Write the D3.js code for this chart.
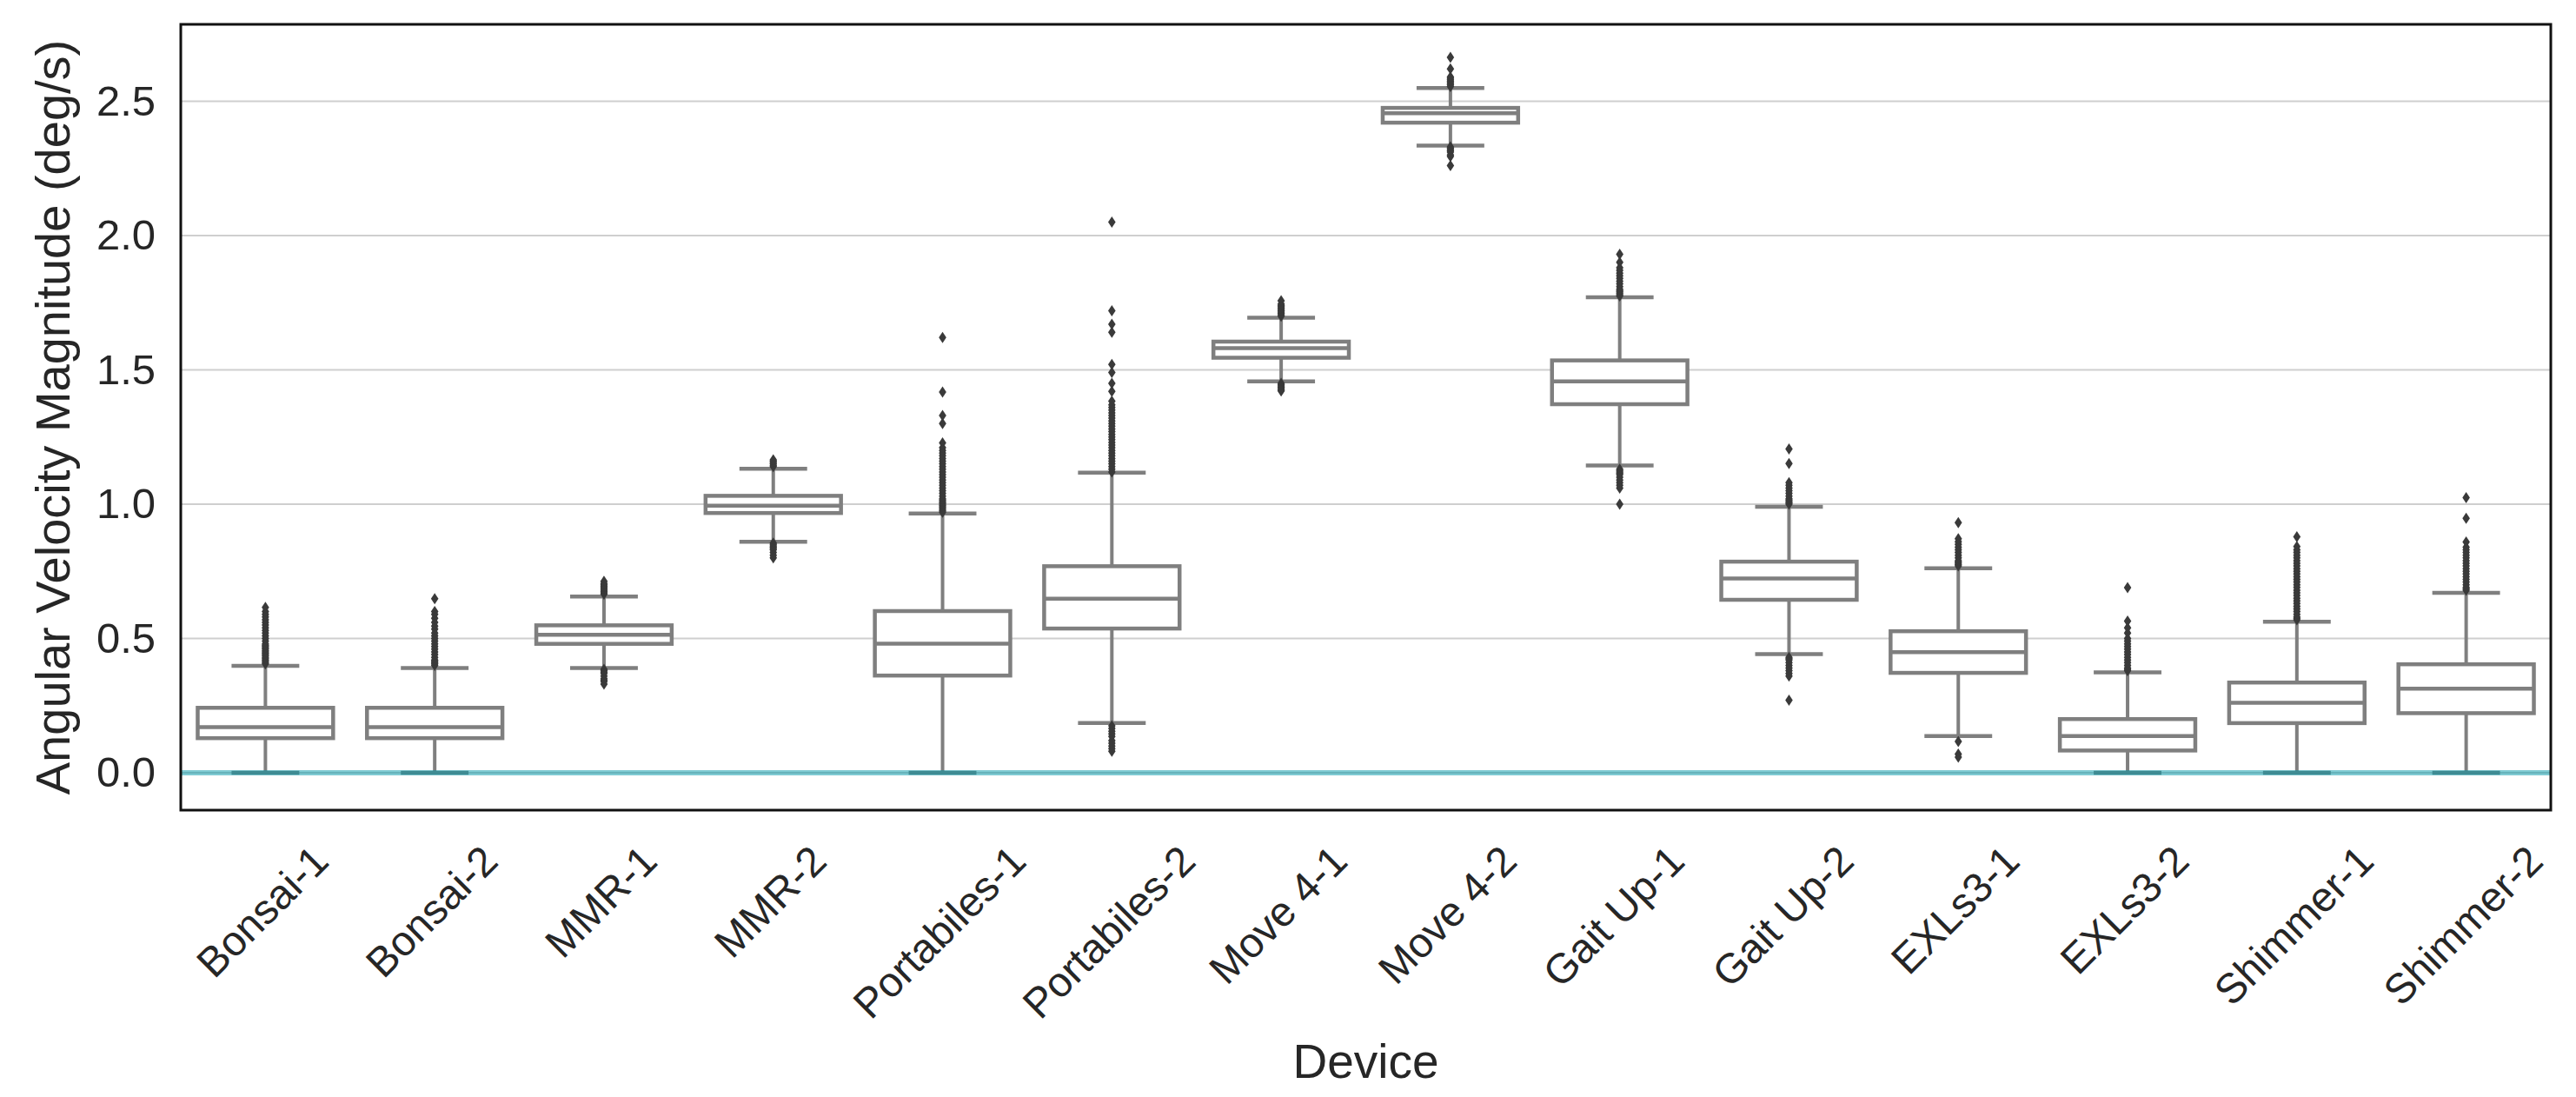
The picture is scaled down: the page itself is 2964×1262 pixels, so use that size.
<!DOCTYPE html>
<html>
<head>
<meta charset="utf-8">
<script src="https://cdn.jsdelivr.net/npm/d3@7"></script>
<style>
  body { margin: 0; background: #fff; }
  text { font-family: "Liberation Sans", Arial, sans-serif; fill: #262626; }
</style>
</head>
<body>
<svg id="chart" width="2964" height="1262"></svg>
<script>
// box statistics (deg/s)
var devices = ["Bonsai-1", "Bonsai-2", "MMR-1", "MMR-2", "Portabiles-1", "Portabiles-2",
  "Move 4-1", "Move 4-2", "Gait Up-1", "Gait Up-2", "EXLs3-1", "EXLs3-2", "Shimmer-1", "Shimmer-2"];
var whiskLo = [0.0, 0.0, 0.39, 0.86, 0.0, 0.185, 1.457, 2.335, 1.144, 0.442, 0.137, 0.0, 0.0, 0.0];
var q1      = [0.129, 0.129, 0.48, 0.967, 0.362, 0.537, 1.545, 2.42, 1.372, 0.644, 0.372, 0.083, 0.185, 0.222];
var med     = [0.17, 0.17, 0.514, 0.994, 0.481, 0.648, 1.581, 2.455, 1.457, 0.723, 0.449, 0.137, 0.261, 0.313];
var q3      = [0.242, 0.242, 0.549, 1.031, 0.602, 0.769, 1.605, 2.475, 1.535, 0.786, 0.527, 0.2, 0.336, 0.404];
var whiskHi = [0.398, 0.39, 0.656, 1.132, 0.965, 1.117, 1.694, 2.549, 1.77, 0.99, 0.761, 0.374, 0.562, 0.67];

// outlier points per device
var fliers = [
  [0.405, 0.41, 0.415, 0.42, 0.425, 0.43, 0.435, 0.44, 0.445, 0.45, 0.455, 0.46, 0.465, 0.47, 0.475,
   0.48, 0.49, 0.50, 0.51, 0.52, 0.53, 0.54, 0.55, 0.56, 0.57, 0.58, 0.59, 0.60, 0.616],
  [0.40, 0.405, 0.41, 0.415, 0.42, 0.43, 0.44, 0.45, 0.46, 0.47, 0.48, 0.49, 0.50, 0.51, 0.52,
   0.535, 0.546, 0.56, 0.575, 0.59, 0.60, 0.648],
  [0.665, 0.67, 0.675, 0.68, 0.685, 0.69, 0.695, 0.70, 0.705, 0.713,
   0.385, 0.38, 0.375, 0.37, 0.36, 0.35, 0.345, 0.34, 0.33],
  [1.14, 1.145, 1.15, 1.155, 1.16, 1.165,
   0.855, 0.85, 0.845, 0.84, 0.835, 0.83, 0.82, 0.81, 0.80],
  [0.97, 0.975, 0.98, 0.985, 0.99, 0.995, 1.0, 1.005, 1.01, 1.015, 1.02, 1.03, 1.04, 1.05, 1.06,
   1.07, 1.08, 1.09, 1.10, 1.11, 1.12, 1.13, 1.14, 1.15, 1.16, 1.17, 1.18, 1.19, 1.20, 1.21, 1.228,
   1.30, 1.33, 1.417, 1.62],
  [1.12, 1.13, 1.14, 1.15, 1.16, 1.17, 1.18, 1.19, 1.20, 1.21, 1.22, 1.23, 1.24, 1.25, 1.26, 1.27,
   1.28, 1.29, 1.30, 1.31, 1.32, 1.33, 1.34, 1.35, 1.36, 1.37, 1.383, 1.42, 1.45, 1.49, 1.52,
   1.64, 1.67, 1.72, 2.05,
   0.175, 0.165, 0.155, 0.145, 0.135, 0.12, 0.11, 0.10, 0.09, 0.08],
  [1.70, 1.705, 1.71, 1.715, 1.72, 1.725, 1.73, 1.735, 1.74, 1.745, 1.757,
   1.45, 1.445, 1.44, 1.435, 1.43, 1.425, 1.421],
  [2.555, 2.56, 2.565, 2.57, 2.575, 2.58, 2.585, 2.59, 2.62, 2.663,
   2.33, 2.325, 2.32, 2.315, 2.31, 2.30, 2.294, 2.26],
  [1.775, 1.78, 1.785, 1.79, 1.795, 1.80, 1.81, 1.82, 1.83, 1.84, 1.85, 1.86, 1.87, 1.88, 1.90, 1.93,
   1.13, 1.125, 1.12, 1.115, 1.11, 1.10, 1.09, 1.08, 1.07, 1.06, 1.0],
  [1.0, 1.005, 1.01, 1.015, 1.02, 1.03, 1.04, 1.05, 1.06, 1.07, 1.08, 1.151, 1.205,
   0.43, 0.425, 0.42, 0.41, 0.40, 0.39, 0.38, 0.37, 0.36, 0.27],
  [0.77, 0.775, 0.78, 0.785, 0.79, 0.80, 0.81, 0.82, 0.83, 0.84, 0.85, 0.86, 0.871, 0.931,
   0.117, 0.07, 0.058],
  [0.38, 0.385, 0.39, 0.40, 0.41, 0.42, 0.43, 0.44, 0.45, 0.46, 0.47, 0.48, 0.49, 0.50, 0.52, 0.54,
   0.565, 0.689],
  [0.57, 0.575, 0.58, 0.59, 0.60, 0.61, 0.62, 0.63, 0.64, 0.65, 0.66, 0.67, 0.68, 0.69, 0.70, 0.71,
   0.72, 0.73, 0.74, 0.75, 0.76, 0.77, 0.78, 0.79, 0.80, 0.81, 0.82, 0.83, 0.842, 0.879],
  [0.68, 0.685, 0.69, 0.70, 0.71, 0.72, 0.73, 0.74, 0.75, 0.76, 0.77, 0.78, 0.79, 0.80, 0.81, 0.82,
   0.83, 0.84, 0.859, 0.947, 1.024]
];
var yTicks = [0.0, 0.5, 1.0, 1.5, 2.0, 2.5];
var refLine = 0.0;

var svg = d3.select("#chart");
// plot area edges (window.top is reserved, so these get a prefix)
var plotL = 208, plotR = 2935, plotT = 28, plotB = 932;

svg.append("rect").attr("width", 2964).attr("height", 1262).attr("fill", "#fff");

var x = d3.scaleBand().domain(devices).range([plotL, plotR]).paddingInner(0).paddingOuter(0);
var y = d3.scaleLinear().domain([-0.139, 2.786]).range([plotB, plotT]);

var boxW = x.bandwidth() * 0.8;
var capW = boxW / 2;
var lineCol = "#7f7f7f";

// grid
svg.append("g").selectAll("line").data(yTicks).enter().append("line")
  .attr("x1", plotL).attr("x2", plotR)
  .attr("y1", function(d) { return y(d); }).attr("y2", function(d) { return y(d); })
  .attr("stroke", "#cfcfcf").attr("stroke-width", 2);

// y tick labels
var yAxis = d3.axisLeft(y).tickValues(yTicks).tickFormat(d3.format(".1f")).tickSize(0).tickPadding(29);
var ya = svg.append("g").attr("transform", "translate(" + plotL + ",0)").call(yAxis);
ya.select(".domain").remove();
ya.selectAll("text").attr("font-size", 49).attr("fill", "#262626")
  .attr("font-family", "Liberation Sans, Arial, sans-serif");

// boxes
var g = svg.append("g");
devices.forEach(function(dev, i) {
  var cx = x(dev) + x.bandwidth() / 2;
  var bg = g.append("g");
  // whiskers
  bg.append("line").attr("x1", cx).attr("x2", cx).attr("y1", y(q3[i])).attr("y2", y(whiskHi[i]))
    .attr("stroke", lineCol).attr("stroke-width", 4);
  bg.append("line").attr("x1", cx).attr("x2", cx).attr("y1", y(q1[i])).attr("y2", y(whiskLo[i]))
    .attr("stroke", lineCol).attr("stroke-width", 4);
  // caps
  [whiskHi[i], whiskLo[i]].forEach(function(v) {
    bg.append("line").attr("x1", cx - capW / 2).attr("x2", cx + capW / 2)
      .attr("y1", y(v)).attr("y2", y(v))
      .attr("stroke", lineCol).attr("stroke-width", 4.5);
  });
  // box
  bg.append("rect").attr("x", cx - boxW / 2).attr("width", boxW)
    .attr("y", y(q3[i])).attr("height", y(q1[i]) - y(q3[i]))
    .attr("fill", "#fff").attr("stroke", lineCol).attr("stroke-width", 4.5);
  // median
  bg.append("line").attr("x1", cx - boxW / 2).attr("x2", cx + boxW / 2)
    .attr("y1", y(med[i])).attr("y2", y(med[i]))
    .attr("stroke", lineCol).attr("stroke-width", 4.5);
  // outliers (thin diamonds)
  bg.selectAll("path.fl").data(fliers[i]).enter().append("path")
    .attr("class", "fl")
    .attr("d", function(v) {
      var py = y(v);
      return "M" + cx + "," + (py - 6.5) + "L" + (cx + 4.3) + "," + py + "L" + cx + "," + (py + 6.5) +
        "L" + (cx - 4.3) + "," + py + "Z";
    })
    .attr("fill", "#3a3a3a");
});

// reference line at zero
svg.append("line").attr("x1", plotL).attr("x2", plotR)
  .attr("y1", y(refLine)).attr("y2", y(refLine))
  .attr("stroke", "#0097a7").attr("stroke-opacity", 0.5).attr("stroke-width", 6);

// frame
svg.append("rect").attr("x", plotL).attr("y", plotT).attr("width", plotR - plotL).attr("height", plotB - plotT)
  .attr("fill", "none").attr("stroke", "#111").attr("stroke-width", 3);

// rotated x tick labels
var fs = 48;
devices.forEach(function(dev) {
  var cx = x(dev) + x.bandwidth() / 2;
  var t = svg.append("text").attr("font-size", fs).attr("text-anchor", "end").text(dev);
  var w = t.node().getComputedTextLength();
  var a = 0.716 * fs;
  var d = /[gpqyj]/.test(dev) ? 0.21 * fs : 0;
  var ax = cx - 4 + 0.3535 * (w + a - d);
  var ay = 969 + 0.707 * a;
  t.attr("transform", "translate(" + ax + "," + ay + ") rotate(-45)");
});

// axis titles
svg.append("text").attr("x", (plotL + plotR) / 2).attr("y", 1240)
  .attr("text-anchor", "middle").attr("font-size", 55).text("Device");
svg.append("text").attr("transform", "translate(80," + ((plotT + plotB) / 2) + ") rotate(-90)")
  .attr("text-anchor", "middle").attr("font-size", 56).text("Angular Velocity Magnitude (deg/s)");
</script>
</body>
</html>
